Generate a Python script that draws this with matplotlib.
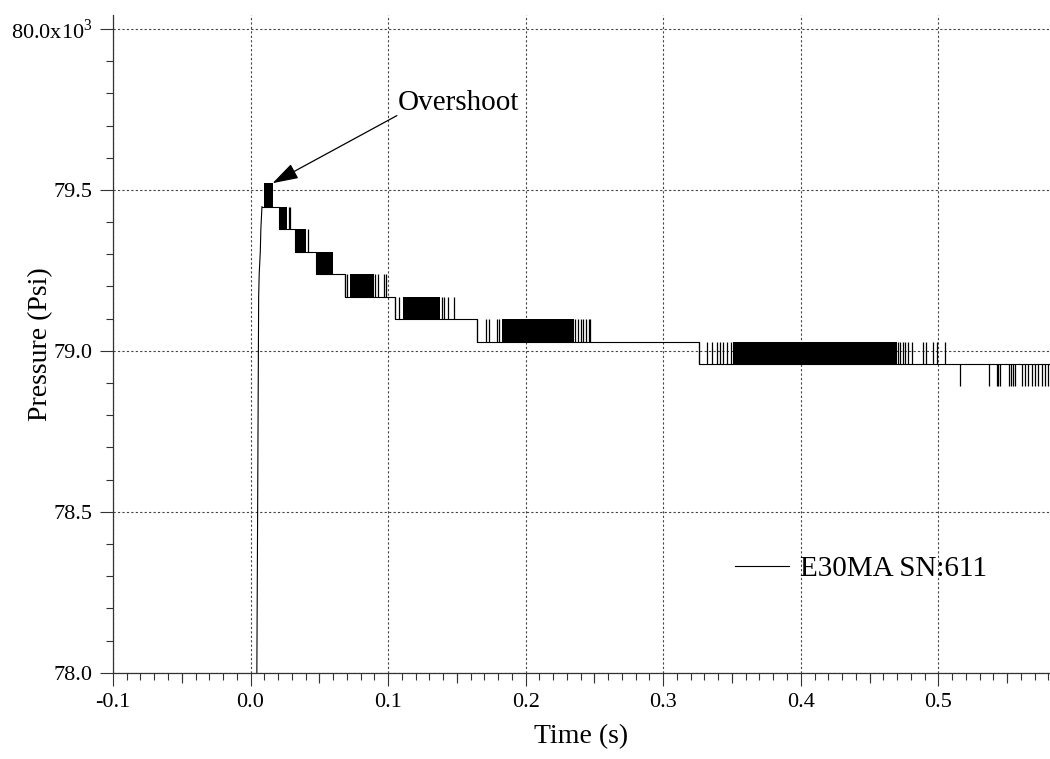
import numpy as np
import matplotlib
matplotlib.use("Agg")
import matplotlib.pyplot as plt
from matplotlib.ticker import MultipleLocator, FixedLocator, FixedFormatter

plt.rcParams["font.family"] = "Liberation Serif"
plt.rcParams["mathtext.fontset"] = "custom"
plt.rcParams["mathtext.rm"] = "Liberation Serif"

# ── data (pressure in kPsi, time in s) ──────────────────────────────────────
# quantised pressure levels seen in the trace
levels = [79.521, 79.448, 79.378, 79.308, 79.239, 79.168, 79.100, 79.028, 78.959, 78.890]

# initial rise
rise_t = [0.0045, 0.0046, 0.0059, 0.0063, 0.0071, 0.0075, 0.0083]
rise_v = [77.90, 78.00, 79.168, 79.239, 79.308, 79.378, 79.448]

# settled step trace
step_t = [0.0083, 0.0209, 0.0324, 0.0475, 0.0690, 0.1052, 0.1645, 0.3257, 0.59]
step_v = [79.448, 79.378, 79.308, 79.239, 79.168, 79.100, 79.028, 78.959, 78.959]

# dense toggling blocks between two adjacent levels
block_t0 = [0.0095, 0.0209, 0.0324, 0.0475, 0.0725, 0.1112, 0.1827, 0.3510]
block_t1 = [0.0160, 0.0264, 0.0403, 0.0599, 0.0894, 0.1380, 0.2348, 0.4697]
block_lo = [79.448, 79.378, 79.308, 79.239, 79.168, 79.100, 79.028, 78.959]
block_hi = [79.521, 79.448, 79.378, 79.308, 79.239, 79.168, 79.100, 79.028]

# isolated toggles (vertical spikes), grouped by level pair
spk_12 = [0.0277, 0.0289]
spk_23 = [0.0419]
spk_45 = [0.0690, 0.0700, 0.0906, 0.0926, 0.0972, 0.0984]
spk_56 = [0.1052, 0.1076, 0.1390, 0.1407, 0.1436, 0.1476]
spk_67 = [0.1645, 0.1710, 0.1733, 0.1789, 0.1806, 0.2360, 0.2384, 0.2401,
          0.2420, 0.2440, 0.2457, 0.2469]
spk_78 = [0.3257, 0.3317, 0.3353, 0.3394, 0.3413, 0.3437, 0.3462, 0.3490,
          0.4709, 0.4721, 0.4745, 0.4757, 0.4781, 0.4806, 0.4891, 0.4910,
          0.4959, 0.4993, 0.5049]
spk_89 = [0.5158, 0.5371, 0.5424, 0.5436, 0.5449, 0.5514, 0.5528, 0.5543,
          0.5557, 0.5606, 0.5630, 0.5655, 0.5679, 0.5703, 0.5728, 0.5752,
          0.5777, 0.5800]

y_ticks = [78.0, 78.5, 79.0, 79.5, 80.0]
y_ticklabels = ["78.0", "78.5", "79.0", "79.5", "80.0x10$^3$"]
x_ticks = [-0.1, 0.0, 0.1, 0.2, 0.3, 0.4, 0.5]
x_ticklabels = ["-0.1", "0.0", "0.1", "0.2", "0.3", "0.4", "0.5"]

# ── figure ──────────────────────────────────────────────────────────────────
fig = plt.figure(figsize=(10.5, 7.59), dpi=100)
ax = fig.add_axes([0.1076, 0.1137, 0.8924, 0.8665])

LW = 0.8
ax.plot(rise_t, rise_v, color="k", lw=LW)
ax.plot(step_t, step_v, color="k", lw=LW, drawstyle="steps-post",
        label="E30MA SN:611")
for t0, t1, lo, hi in zip(block_t0, block_t1, block_lo, block_hi):
    ax.fill_between([t0, t1], lo, hi, color="k", lw=0)

spike_sets = [(spk_12, 2, 1), (spk_23, 3, 2), (spk_45, 5, 4), (spk_56, 6, 5),
              (spk_67, 7, 6), (spk_78, 8, 7), (spk_89, 9, 8)]
for ts, i_lo, i_hi in spike_sets:
    ax.vlines(ts, levels[i_lo], levels[i_hi], color="k", lw=0.9)

ax.set_xlim(-0.1, 0.5812)
ax.set_ylim(78.0, 80.0435)

ax.xaxis.set_major_locator(FixedLocator(x_ticks))
ax.xaxis.set_major_formatter(FixedFormatter(x_ticklabels))
ax.xaxis.set_minor_locator(MultipleLocator(0.01))
ax.yaxis.set_major_locator(FixedLocator(y_ticks))
ax.yaxis.set_major_formatter(FixedFormatter(y_ticklabels))
ax.yaxis.set_minor_locator(MultipleLocator(0.1))

ax.tick_params(which="major", direction="out", length=9.4, width=0.8,
               labelsize=16, pad=5, color="#333333")
ax.tick_params(which="minor", direction="out", length=4.8, width=0.8,
               color="#333333")

# mid-length ticks at the half decades
mid = ax.secondary_xaxis("bottom")
mid.set_xticks([-0.05, 0.05, 0.15, 0.25, 0.35, 0.45, 0.55])
mid.set_xticklabels([])
mid.tick_params(direction="out", length=7.2, width=0.8, color="#333333")
mid.spines["bottom"].set_visible(False)

for side in ["top", "right"]:
    ax.spines[side].set_visible(False)
for side in ["left", "bottom"]:
    ax.spines[side].set_color("#333333")
    ax.spines[side].set_linewidth(0.9)

ax.grid(which="major", color="#444444", linestyle=(0, (2, 2)), lw=0.8)
ax.set_axisbelow(True)

ax.set_xlabel("Time (s)", fontsize=20, labelpad=9)
ax.set_ylabel("Pressure (Psi)", fontsize=20)
ax.yaxis.set_label_coords(-0.064, 0.5)

ax.annotate("", xy=(0.0160, 79.521), xytext=(0.1064, 79.731),
            arrowprops=dict(arrowstyle="-|>,head_length=0.8,head_width=0.25",
                            mutation_scale=20, color="k", lw=0.9,
                            shrinkA=0, shrinkB=0))
ax.text(0.1068, 79.748, "Overshoot", fontsize=21, ha="left", va="baseline")

leg = ax.legend(loc="center left", bbox_to_anchor=(0.6633, 0.1583),
                frameon=False, fontsize=21, handlelength=1.86,
                handletextpad=0.4, borderpad=0, borderaxespad=0)

fig.savefig("out.png", dpi=100, facecolor="white")
